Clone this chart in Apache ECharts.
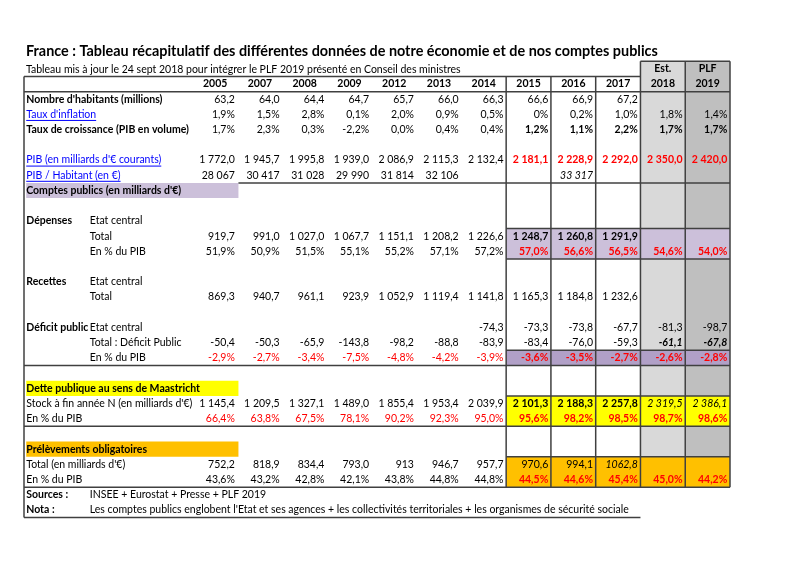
<!DOCTYPE html>
<html><head><meta charset="utf-8">
<script src="https://cdn.jsdelivr.net/npm/echarts@6/dist/echarts.min.js"></script>
<style>html,body{margin:0;padding:0;background:#fff}#c{width:800px;height:565px}</style>
</head><body><div id="c"></div>
<script>
// ---------- DATA ----------
const years = ['2005','2007','2008','2009','2012','2013','2014','2015','2016','2017','2018','2019'];
const topHeader = [null,null,null,null,null,null,null,null,null,null,'Est.','PLF'];
const habitants  = [63.2,64.0,64.4,64.7,65.7,66.0,66.3,66.6,66.9,67.2,null,null];
const inflation  = [1.9,1.5,2.8,0.1,2.0,0.9,0.5,0,0.2,1.0,1.8,1.4];
const croissance = [1.7,2.3,0.3,-2.2,0.0,0.4,0.4,1.2,1.1,2.2,1.7,1.7];
const pib        = [1772.0,1945.7,1995.8,1939.0,2086.9,2115.3,2132.4,2181.1,2228.9,2292.0,2350.0,2420.0];
const pibHab     = [28067,30417,31028,29990,31814,32106,null,null,33317,null,null,null];
const depTotal   = [919.7,991.0,1027.0,1067.7,1151.1,1208.2,1226.6,1248.7,1260.8,1291.9,null,null];
const depPct     = [51.9,50.9,51.5,55.1,55.2,57.1,57.2,57.0,56.6,56.5,54.6,54.0];
const recTotal   = [869.3,940.7,961.1,923.9,1052.9,1119.4,1141.8,1165.3,1184.8,1232.6,null,null];
const defEtat    = [null,null,null,null,null,null,-74.3,-73.3,-73.8,-67.7,-81.3,-98.7];
const defTotal   = [-50.4,-50.3,-65.9,-143.8,-98.2,-88.8,-83.9,-83.4,-76.0,-59.3,-61.1,-67.8];
const defPct     = [-2.9,-2.7,-3.4,-7.5,-4.8,-4.2,-3.9,-3.6,-3.5,-2.7,-2.6,-2.8];
const detteStock = [1145.4,1209.5,1327.1,1489.0,1855.4,1953.4,2039.9,2101.3,2188.3,2257.8,2319.5,2386.1];
const dettePct   = [66.4,63.8,67.5,78.1,90.2,92.3,95.0,95.6,98.2,98.5,98.7,98.6];
const prelTotal  = [752.2,818.9,834.4,793.0,913,946.7,957.7,970.6,994.1,1062.8,null,null];
const prelPct    = [43.6,43.2,42.8,42.1,43.8,44.8,44.8,44.5,44.6,45.4,45.0,44.2];

// ---------- LAYOUT / STYLE ----------
const FONT = 'Lato', FS = 10.5;
const LX = -3.77;            // label column start, in column units
const SUBX = -2.30;          // sub-label start
const RED = '#ff0000', LINK = '#0000ff';
const late = [7,8,9,10,11], all = [0,1,2,3,4,5,6,7,8,9,10,11];

const rows = [
 {row:1, label:"Nombre d'habitants (millions)", ls:'bold', values:habitants, dec:1},
 {row:2, label:"Taux d'inflation", ls:'link', values:inflation, dec:1, pct:true, over:{7:'0%'}},
 {row:3, label:'Taux de croissance (PIB en volume)', ls:'bold', values:croissance, dec:1, pct:true, bold:late},
 {row:5, label:"PIB (en milliards d'€ courants)", ls:'link', values:pib, dec:1, red:late, bold:late},
 {row:6, label:'PIB / Habitant (en €)', ls:'link', values:pibHab, dec:0, italic:[8]},
 {row:7, label:"Comptes publics (en milliards d'€)", ls:'bold'},
 {row:9, label:'Dépenses', ls:'bold', sub:'Etat central'},
 {row:10, sub:'Total', values:depTotal, dec:1, bold:[7,8,9]},
 {row:11, sub:'En % du PIB', values:depPct, dec:1, pct:true, red:late, bold:late},
 {row:13, label:'Recettes', ls:'bold', sub:'Etat central'},
 {row:14, sub:'Total', values:recTotal, dec:1},
 {row:16, label:'Déficit public', ls:'bold', sub:'Etat central', values:defEtat, dec:1},
 {row:17, sub:'Total : Déficit Public', values:defTotal, dec:1, bold:[10,11], italic:[10,11]},
 {row:18, sub:'En % du PIB', values:defPct, dec:1, pct:true, red:all, bold:late},
 {row:20, label:'Dette publique au sens de Maastricht', ls:'bold'},
 {row:21, label:"Stock à fin année N (en milliards d'€)", values:detteStock, dec:1, bold:[7,8,9], italic:[10,11]},
 {row:22, label:'En % du PIB', values:dettePct, dec:1, pct:true, red:all, bold:late},
 {row:24, label:'Prélèvements obligatoires', ls:'bold'},
 {row:25, label:"Total (en milliards d'€)", values:prelTotal, dec:1, italic:[9], over:{4:'913', 9:'1062,8'}},
 {row:26, label:'En % du PIB', values:prelPct, dec:1, pct:true, red:late, bold:late},
 {row:27, label:'Sources :', ls:'bold', sub:'INSEE + Eurostat + Presse + PLF 2019'},
 {row:28, label:'Nota :', ls:'bold', sub:"Les comptes publics englobent l'Etat et ses agences + les collectivités territoriales + les organismes de sécurité sociale"}
];

// fills: [x0, x1, y0, y1] in column/row units
const fills = [
 {r:[10,11,-1.5,26.5], c:'#d9d9d9'},
 {r:[11,12,-1.5,26.5], c:'#bfbfbf'},
 {r:[LX+0.05,1.02,6.5,7.5], c:'#ccc0da'},
 {r:[7,12,9.5,11.5], c:'#ccc0da'},
 {r:[7,12,17.5,18.5], c:'#b1a0c7'},
 {r:[LX+0.05,1.02,19.5,20.5], c:'#ffff00'},
 {r:[7,12,20.5,22.5], c:'#ffff00'},
 {r:[LX+0.05,1.02,23.5,24.5], c:'#ffc000'},
 {r:[7,12,24.5,26.5], c:'#ffc000'}
];
// lines: [x0, y0, x1, y1]
const lines = [
 [LX,-0.5,10,-0.5],[10,-1.5,12,-1.5],[LX,0.5,12,0.5],[1.02,6.5,12,6.5],
 [7,9.5,12,9.5],[7,11.5,12,11.5],[7,17.5,12,17.5],[LX,18.5,12,18.5],
 [7,20.5,12,20.5],[LX,22.5,12,22.5],[7,24.5,12,24.5],[LX,26.5,12,26.5],[LX,28.5,10,28.5],
 [LX,-0.5,LX,28.5],[7,-0.5,7,26.5],[8,-0.5,8,26.5],[9,-0.5,9,26.5],
 [10,-1.5,10,26.5],[11,-1.5,11,26.5],[12,-1.5,12,26.5]
];

function fmt(v, dec, pct) {
  const neg = v < 0;
  const s = Math.abs(v).toFixed(dec).split('.');
  const ip = s[0].replace(/\B(?=(\d{3})+(?!\d))/g, ' ');
  return (neg ? '-' : '') + ip + (s[1] !== undefined ? ',' + s[1] : '') + (pct ? '%' : '');
}

const cells = [];
function addText(x, y, text, opt) {
  cells.push(Object.assign({x:x, y:y, text:text, align:'left', weight:'normal', style:'normal', color:'#000', underline:false}, opt || {}));
}
years.forEach((yv, i) => {
  addText(i + 0.5, 0, yv, {align:'center', weight:'bold'});
  if (topHeader[i]) addText(i + 0.5, -1, topHeader[i], {align:'center', weight:'bold'});
});
rows.forEach(rs => {
  if (rs.label) addText(LX + 0.05, rs.row, rs.label, {
    weight: rs.ls === 'bold' ? 'bold' : 'normal',
    color: rs.ls === 'link' ? LINK : '#000',
    underline: rs.ls === 'link'
  });
  if (rs.sub) addText(SUBX, rs.row, rs.sub);
  if (rs.values) rs.values.forEach((v, i) => {
    if (v === null) return;
    const t = (rs.over && rs.over[i]) ? rs.over[i] : fmt(v, rs.dec, rs.pct);
    addText(i + 1 - 0.06, rs.row, t, {
      align:'right',
      weight: (rs.bold && rs.bold.includes(i)) ? 'bold' : 'normal',
      style: (rs.italic && rs.italic.includes(i)) ? 'italic' : 'normal',
      color: (rs.red && rs.red.includes(i)) ? RED : '#000'
    });
  });
});

const mctx = document.createElement('canvas').getContext('2d');

const chart = echarts.init(document.getElementById('c'), null, {renderer:'canvas'});
chart.setOption({
  animation: false,
  backgroundColor: '#fff',
  title: [
    {text:'France : Tableau récapitulatif des différentes données de notre économie et de nos comptes publics',
     left:26, top:44, padding:0, textStyle:{fontFamily:FONT, fontSize:14.4, fontWeight:'bold', color:'#000'}},
    {text:'Tableau mis à jour le 24 sept 2018 pour intégrer le PLF 2019 présenté en Conseil des ministres',
     left:26, top:64.5, padding:0, textStyle:{fontFamily:FONT, fontSize:10.5, fontWeight:'normal', color:'#000'}}
  ],
  grid: {left:24, right:70, top:61.2, bottom:47.4},
  xAxis: {type:'value', min:LX, max:12, show:false},
  yAxis: {type:'value', min:-1.5, max:28.5, inverse:true, show:false},
  series: [
    {type:'custom', silent:true, data: fills.map(f => f.r),
     renderItem: (params, api) => {
       const p0 = api.coord([api.value(0), api.value(2)]);
       const p1 = api.coord([api.value(1), api.value(3)]);
       return {type:'rect', shape:{x:p0[0], y:p0[1], width:p1[0]-p0[0], height:p1[1]-p0[1]},
               style:{fill: fills[params.dataIndex].c}};
     }},
    {type:'custom', silent:true, data: lines,
     renderItem: (params, api) => {
       const p0 = api.coord([api.value(0), api.value(1)]);
       const p1 = api.coord([api.value(2), api.value(3)]);
       return {type:'line', shape:{x1:p0[0], y1:p0[1], x2:p1[0], y2:p1[1]},
               style:{stroke:'#404040', lineWidth:1.5}};
     }},
    {type:'custom', silent:true, data: cells.map(c => [c.x, c.y]),
     renderItem: (params, api) => {
       const c = cells[params.dataIndex];
       const p = api.coord([api.value(0), api.value(1)]);
       const kids = [{type:'text', style:{x:p[0], y:p[1], text:c.text, fontFamily:FONT, fontSize:FS,
         fontWeight:c.weight, fontStyle:c.style, fill:c.color, align:c.align, verticalAlign:'middle'}}];
       if (c.underline) {
         mctx.font = c.style + ' ' + c.weight + ' ' + FS + 'px ' + FONT;
         const w = mctx.measureText(c.text).width;
         kids.push({type:'line', shape:{x1:p[0], y1:p[1]+6, x2:p[0]+w, y2:p[1]+6}, style:{stroke:c.color, lineWidth:1}});
       }
       return {type:'group', children:kids};
     }}
  ]
});
</script>
</body></html>
